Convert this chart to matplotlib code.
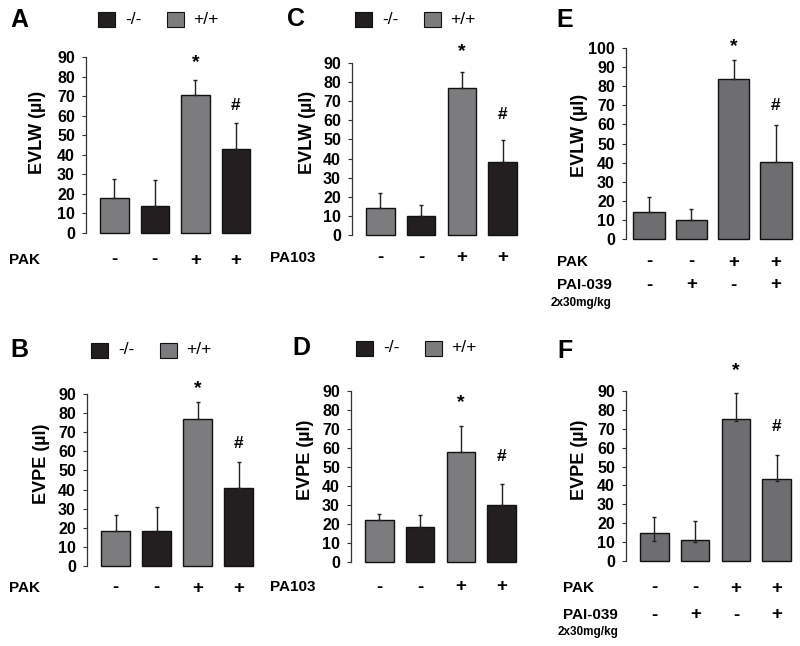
import numpy as np
import matplotlib
matplotlib.use("Agg")
import matplotlib.pyplot as plt
import matplotlib.transforms as mtransforms
from matplotlib.patches import Rectangle

plt.rcParams['font.family'] = ['Liberation Sans', 'DejaVu Sans']

GREY = '#7c7c7e'
DARK = '#231f20'
GREY2 = '#6e6e70'

# data
A_mean = [18, 14, 70.5, 43]
A_err = [9.5, 13, 7.5, 13.5]
B_mean = [18.5, 18.5, 77, 40.8]
B_err = [8, 12.3, 9, 13.7]
C_mean = [14, 10, 77, 38]
C_err = [8, 5.5, 8.5, 11.5]
D_mean = [22, 18.4, 58, 30]
D_err = [3.3, 6.6, 13.7, 11]
E_mean = [14, 10, 84, 40.5]
E_err = [8, 5.5, 9.5, 19]
F_mean = [14.8, 11.2, 75.2, 43.4]
F_err = [8.6, 10.1, 13.5, 12.6]
F_err_low = [4, 1, 1, 1]

# significance marks (value height of the symbol)
A_marks = [87, 65]
B_marks = [93, 64]
C_marks = [96, 63]
D_marks = [84, 55.5]
E_marks = [101, 70]
F_marks = [101, 71]

treat_pak = ['-', '-', '+', '+']
treat_pai = ['-', '+', '-', '+']
geno_colors = [GREY, DARK, GREY, DARK]

W, H = 800, 646
fig = plt.figure(figsize=(8, 6.46), dpi=100)


def ftext(x, y, s, **kw):
    return fig.text(x / W, 1 - y / H, s, **kw)


def make_axes(left, y0, ytop, unit, xl, xr):
    width = unit * (xr - xl)
    ax = fig.add_axes([left / W, (H - y0) / H, width / W, (y0 - ytop) / H])
    ax.set_xlim(xl, xr)
    return ax


def panel(ax, means, errs, colors, ymax, bar_w, marks, err_low=None):
    x = np.arange(len(means))
    ax.bar(x, means, width=bar_w, color=colors, edgecolor='#111111',
           linewidth=1.0, clip_on=False, zorder=2)
    low = err_low if err_low is not None else [0] * len(means)
    ax.errorbar(x, means, yerr=[low, errs], fmt='none', ecolor='#222222',
                elinewidth=1.0, capsize=1.5, capthick=1.0, zorder=3)
    ax.set_ylim(0, ymax)
    ax.set_yticks(np.arange(0, ymax + 1, 10))
    for s in ['top', 'right', 'bottom']:
        ax.spines[s].set_visible(False)
    ax.spines['left'].set_linewidth(0.9)
    ax.spines['left'].set_color('#333333')
    ax.tick_params(axis='y', direction='out', length=3, width=0.8, pad=5,
                   labelsize=11.5, color='#333333')
    for lab in ax.get_yticklabels():
        lab.set_fontweight('bold')
    ax.set_xticks([])
    ax.text(x[2], marks[0], '*', ha='center', va='center', fontsize=14,
            fontweight='bold', clip_on=False)
    ax.text(x[3], marks[1], '#', ha='center', va='center', fontsize=12.5,
            fontweight='bold', clip_on=False)


def sign_row(ax, signs, y):
    tr = mtransforms.blended_transform_factory(ax.transData, fig.transFigure)
    for i, s in enumerate(signs):
        ax.text(i, 1 - y / H, s, transform=tr, ha='center', va='center',
                fontsize=13.5, fontweight='bold')


def legend(x, y):
    fig.patches.append(Rectangle((x / W, 1 - (y + 8) / H), 17 / W, 15 / H,
                                 transform=fig.transFigure, facecolor=DARK,
                                 edgecolor='#111111', linewidth=0.8))
    ftext(x + 27, y, '-/-', ha='left', va='center', fontsize=12.5)
    fig.patches.append(Rectangle(((x + 69) / W, 1 - (y + 8) / H), 17 / W, 15 / H,
                                 transform=fig.transFigure, facecolor=GREY,
                                 edgecolor='#111111', linewidth=0.8))
    ftext(x + 95, y, '+/+', ha='left', va='center', fontsize=12.5)


# ---- A ----
axA = make_axes(86, 233, 57, 40.5, -0.7, 3.5)
panel(axA, A_mean, A_err, geno_colors, 90, 0.7, A_marks)
ftext(10, 20, 'A', fontsize=18, fontweight='bold', va='center')
legend(98, 19)
ftext(37, 132, 'EVLW (µl)', rotation=90, ha='center', va='center',
      fontsize=13, fontweight='bold')
ftext(9, 260, 'PAK', ha='left', va='center', fontsize=11, fontweight='bold')
sign_row(axA, treat_pak, 260)

# ---- B ----
axB = make_axes(87, 566, 394, 41, -0.7, 3.5)
panel(axB, B_mean, B_err, geno_colors, 90, 0.7, B_marks)
ftext(10, 350, 'B', fontsize=18, fontweight='bold', va='center')
legend(91, 350)
ftext(42, 464, 'EVPE (µl)', rotation=90, ha='center', va='center',
      fontsize=13, fontweight='bold')
ftext(9, 588, 'PAK', ha='left', va='center', fontsize=11, fontweight='bold')
sign_row(axB, treat_pak, 588)

# ---- C ----
axC = make_axes(352, 235, 63, 40.7, -0.7, 3.5)
panel(axC, C_mean, C_err, geno_colors, 90, 0.7, C_marks)
ftext(287, 19, 'C', fontsize=18, fontweight='bold', va='center')
legend(355, 19)
ftext(308, 132, 'EVLW (µl)', rotation=90, ha='center', va='center',
      fontsize=13, fontweight='bold')
ftext(270, 258, 'PA103', ha='left', va='center', fontsize=11, fontweight='bold')
sign_row(axC, treat_pak, 258)

# ---- D ----
axD = make_axes(351, 562, 391, 40.7, -0.7, 3.5)
panel(axD, D_mean, D_err, geno_colors, 90, 0.7, D_marks)
ftext(292, 348, 'D', fontsize=18, fontweight='bold', va='center')
legend(356, 348)
ftext(305, 460, 'EVPE (µl)', rotation=90, ha='center', va='center',
      fontsize=13, fontweight='bold')
ftext(270, 587, 'PA103', ha='left', va='center', fontsize=11, fontweight='bold')
sign_row(axD, treat_pak, 587)

# ---- E ----
axE = make_axes(626, 239, 48, 42.2, -0.55, 3.45)
panel(axE, E_mean, E_err, [GREY2] * 4, 100, 0.75, E_marks)
ftext(556, 20, 'E', fontsize=18, fontweight='bold', va='center')
ftext(580, 135, 'EVLW (µl)', rotation=90, ha='center', va='center',
      fontsize=13, fontweight='bold')
ftext(557, 262, 'PAK', ha='left', va='center', fontsize=11, fontweight='bold')
ftext(557, 285, 'PAI-039', ha='left', va='center', fontsize=11, fontweight='bold')
ftext(581, 303, '2x30mg/kg', ha='center', va='center', fontsize=8.5, fontweight='bold')
sign_row(axE, treat_pak, 262)
sign_row(axE, treat_pai, 285)

# ---- F ----
axF = make_axes(626, 561, 391, 40.7, -0.7, 3.5)
panel(axF, F_mean, F_err, [GREY2] * 4, 90, 0.7, F_marks, err_low=F_err_low)
ftext(557, 351, 'F', fontsize=18, fontweight='bold', va='center')
ftext(580, 460, 'EVPE (µl)', rotation=90, ha='center', va='center',
      fontsize=13, fontweight='bold')
ftext(563, 588, 'PAK', ha='left', va='center', fontsize=11, fontweight='bold')
ftext(563, 615, 'PAI-039', ha='left', va='center', fontsize=11, fontweight='bold')
ftext(588, 632, '2x30mg/kg', ha='center', va='center', fontsize=8.5, fontweight='bold')
sign_row(axF, treat_pak, 588)
sign_row(axF, treat_pai, 615)

fig.savefig('out.png', dpi=100)
